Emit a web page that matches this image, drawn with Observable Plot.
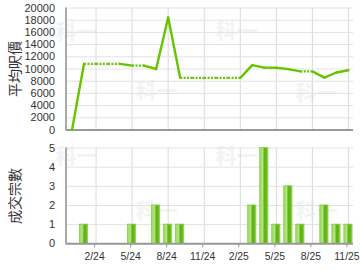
<!DOCTYPE html>
<html>
<head>
<meta charset="utf-8">
<script src="https://cdn.jsdelivr.net/npm/d3@7"></script>
<script src="https://cdn.jsdelivr.net/npm/@observablehq/plot@0.6"></script>
<style>
  html, body { margin: 0; padding: 0; background: #fff; }
  #chart { width: 360px; height: 270px; overflow: hidden; }
  #chart svg { display: block; }
</style>
</head>
<body>
<div id="chart"></div>
<script>
// Months Dec 2023 .. Nov 2025
const months = ["12/23","1/24","2/24","3/24","4/24","5/24","6/24","7/24","8/24","9/24","10/24","11/24","12/24",
                "1/25","2/25","3/25","4/25","5/25","6/25","7/25","8/25","9/25","10/25","11/25"];
// Average price per sq ft (carried forward in months without deals)
const avgPrice = [0,10850,10850,10850,10850,10560,10560,10000,18450,8550,8550,8550,8550,
                  8550,8550,10630,10220,10200,9970,9600,9600,8580,9430,9800];
// Number of transactions
const deals = [0,1,0,0,0,1,0,2,1,1,0,0,0,0,0,2,5,1,3,1,0,2,1,1];
const tickLabels = ["2/24","5/24","8/24","11/24","2/25","5/25","8/25","11/25"];
const priceTicks = [0,2000,4000,6000,8000,10000,12000,14000,16000,18000,20000];
const dealTicks = [0,1,2,3,4,5];
const priceTitle = "平均呎價";
const dealTitle = "成交宗數";
const watermark = "科一";

const tickIdx = tickLabels.map(l => months.indexOf(l));
const segs = avgPrice.slice(1).map((v, k) => ({
  x1: k, y1: avgPrice[k], x2: k + 1, y2: v, dotted: deals[k + 1] === 0
}));
const bars = deals.map((c, i) => ({i, c})).filter(d => d.c > 0);

const font = "'Liberation Sans', Arial, sans-serif";
const cjk = "'Noto Sans CJK TC', sans-serif";
const green = "#66c400";
const xDomain = [-0.5, 23.42];

function wm(offsets) {
  return offsets.map(([dx, dy]) => Plot.text([watermark], {
    frameAnchor: "top-left", textAnchor: "start", lineAnchor: "top", dx, dy, text: d => d,
    fill: "#f3f3f3", fontSize: 21, fontWeight: "bold", fontFamily: cjk
  }));
}

function title(t) {
  return Plot.text([t], {frameAnchor: "left", textAnchor: "middle", lineAnchor: "middle",
    dx: -50, rotate: -90, text: d => d, fontSize: 14, fill: "#333", fontFamily: cjk});
}

const topChart = Plot.plot({
  width: 360, height: 138,
  marginLeft: 65.5, marginRight: 7, marginTop: 7.5, marginBottom: 8.5,
  style: {fontFamily: font, fontSize: "11px", color: "#333", background: "#fff"},
  x: {domain: xDomain, axis: null},
  y: {domain: [0, 20000], axis: null},
  marks: [
    ...wm([[-10.5, 16], [69.5, 75], [149.5, 15], [229.5, 77]]),
    Plot.gridX(tickIdx, {stroke: "#d9d9d9", strokeOpacity: 1}),
    Plot.gridY(priceTicks, {stroke: "#e2e2e2", strokeOpacity: 1}),
    Plot.axisY(priceTicks, {tickSize: 0, tickPadding: 11, tickFormat: d => String(d),
      label: null, fill: "#333", fontSize: 11}),
    Plot.ruleX([xDomain[0]], {stroke: "#aaa", strokeWidth: 2}),
    Plot.ruleY([0], {stroke: "#999", strokeWidth: 2}),
    Plot.link(segs.filter(d => !d.dotted), {x1: "x1", y1: "y1", x2: "x2", y2: "y2",
      stroke: green, strokeWidth: 2.4, strokeLinecap: "round"}),
    Plot.link(segs.filter(d => d.dotted), {x1: "x1", y1: "y1", x2: "x2", y2: "y2",
      stroke: green, strokeWidth: 2.2, strokeDasharray: "2 1.4"}),
    title(priceTitle)
  ]
});

const bottomChart = Plot.plot({
  width: 360, height: 132,
  marginLeft: 65.5, marginRight: 7, marginTop: 9.5, marginBottom: 26.7,
  style: {fontFamily: font, fontSize: "11px", color: "#333", background: "#fff"},
  x: {domain: xDomain, axis: null},
  y: {domain: [0, 5], axis: null},
  marks: [
    ...wm([[-10.5, 0], [69.5, 55], [149.5, 0], [229.5, 55]]),
    Plot.gridX(tickIdx, {stroke: "#d9d9d9", strokeOpacity: 1}),
    Plot.gridY(dealTicks, {stroke: "#e2e2e2", strokeOpacity: 1}),
    Plot.axisY(dealTicks, {tickSize: 0, tickPadding: 11, tickFormat: d => String(d),
      label: null, fill: "#333", fontSize: 11}),
    Plot.rectY(bars, {x1: d => d.i - 0.34, x2: d => d.i + 0.34, y1: 0, y2: "c",
      fill: "url(#barGrad)", stroke: "#86cc44", strokeWidth: 0.8}),
    Plot.ruleX([xDomain[0]], {stroke: "#aaa", strokeWidth: 2}),
    Plot.ruleY([0], {stroke: "#999", strokeWidth: 2}),
    Plot.axisX(tickIdx, {tickFormat: i => months[i], tickSize: 4, tickPadding: 5,
      stroke: "#999", fill: "#333", fontSize: 10.4, dx: -1.5, label: null}),
    title(dealTitle)
  ]
});

const ns = "http://www.w3.org/2000/svg";
const defs = document.createElementNS(ns, "defs");
const grad = document.createElementNS(ns, "linearGradient");
grad.setAttribute("id", "barGrad");
grad.setAttribute("x1", "0"); grad.setAttribute("x2", "1");
grad.setAttribute("y1", "0"); grad.setAttribute("y2", "0");
[["0%", "#9bd95c"], ["35%", "#b4e486"], ["55%", "#5fb314"], ["80%", "#63b818"], ["100%", "#92d452"]]
  .forEach(([o, c]) => {
    const s = document.createElementNS(ns, "stop");
    s.setAttribute("offset", o); s.setAttribute("stop-color", c);
    grad.appendChild(s);
  });
defs.appendChild(grad);
bottomChart.insertBefore(defs, bottomChart.firstChild);

const el = document.getElementById("chart");
el.appendChild(topChart);
el.appendChild(bottomChart);
</script>
</body>
</html>
